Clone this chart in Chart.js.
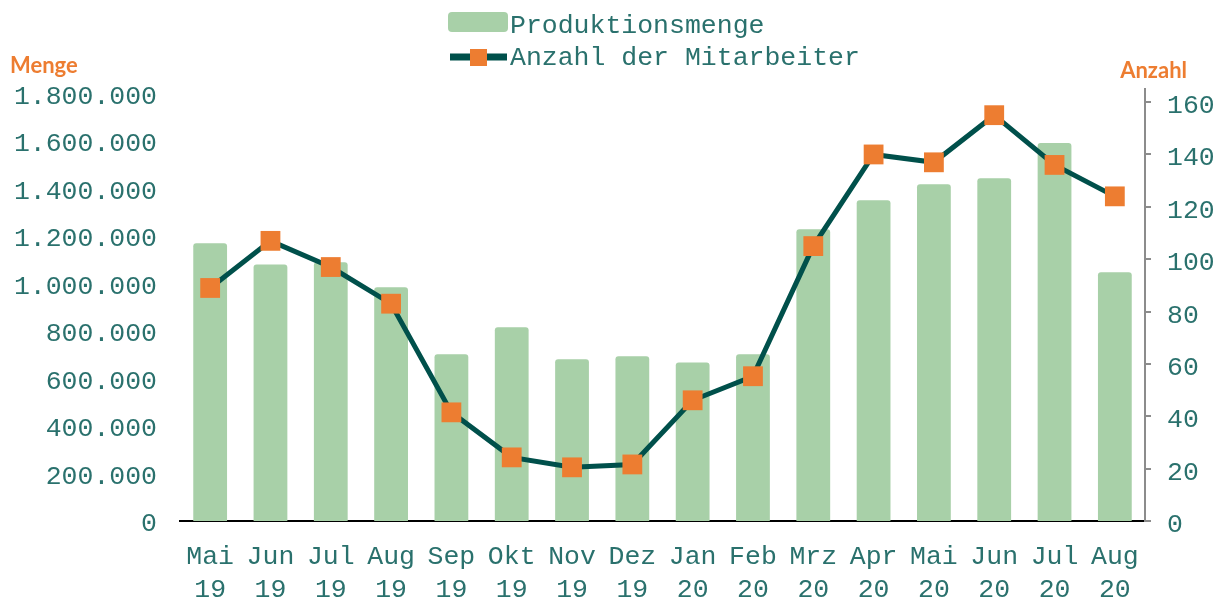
<!DOCTYPE html>
<html>
<head>
<meta charset="utf-8">
<script src="https://cdn.jsdelivr.net/npm/chart.js@4.4.1/dist/chart.umd.min.js"></script>
<style>
  html, body { margin: 0; padding: 0; background: #fff; }
  #wrap { width: 1223px; height: 601px; }
</style>
</head>
<body>
<div id="wrap"><canvas id="chart"></canvas></div>
<script>
const months = [
  ['Mai', '19'], ['Jun', '19'], ['Jul', '19'], ['Aug', '19'],
  ['Sep', '19'], ['Okt', '19'], ['Nov', '19'], ['Dez', '19'],
  ['Jan', '20'], ['Feb', '20'], ['Mrz', '20'], ['Apr', '20'],
  ['Mai', '20'], ['Jun', '20'], ['Jul', '20'], ['Aug', '20']
];
const produktionsmenge = [
  1170000, 1081000, 1090000, 985000, 702000, 816000, 681000, 694000,
  668000, 702000, 1229000, 1351000, 1419000, 1444000, 1592000, 1048000
];
const mitarbeiter = [89, 107, 97, 83, 41.5, 24.3, 20.5, 21.6, 46.1, 55.3, 105, 140, 137, 155, 136, 124];
const mengeTicks = [0, 200000, 400000, 600000, 800000, 1000000, 1200000, 1400000, 1600000, 1800000];
const anzahlTicks = [0, 20, 40, 60, 80, 100, 120, 140, 160];
const seriesNames = ['Produktionsmenge', 'Anzahl der Mitarbeiter'];
const axisTitles = ['Menge', 'Anzahl'];

const barColour = '#a8d0a8';
const lineColour = '#00504b';
const markerColour = '#ed7d31';
const textColour = '#2a716d';
const monoFont = "'Liberation Mono', 'Courier New', monospace";
const fontSize = 26.5;

function dotted(v) {
  return String(v).replace(/\B(?=(\d{3})+(?!\d))/g, '.');
}

// legend drawn above the plot, two stacked rows
const legendBlock = {
  id: 'legendBlock',
  afterDraw(chart) {
    const ctx = chart.ctx;
    const x0 = chart.chartArea.left + 268;
    ctx.save();
    ctx.fillStyle = barColour;
    ctx.beginPath();
    ctx.roundRect(x0, 12, 60, 20, 4);
    ctx.fill();

    ctx.strokeStyle = lineColour;
    ctx.lineWidth = 7;
    ctx.beginPath();
    ctx.moveTo(x0 + 2, 57);
    ctx.lineTo(x0 + 59, 57);
    ctx.stroke();
    ctx.fillStyle = markerColour;
    ctx.fillRect(x0 + 22, 49, 17, 17);

    ctx.font = fontSize + 'px ' + monoFont;
    ctx.fillStyle = textColour;
    ctx.textBaseline = 'middle';
    ctx.fillText(seriesNames[0], x0 + 62, 26);
    ctx.fillText(seriesNames[1], x0 + 62, 58);

    // axis captions
    ctx.font = "bold 22px Lato, 'Open Sans', sans-serif";
    ctx.fillStyle = markerColour;
    ctx.textAlign = 'left';
    ctx.fillText(axisTitles[0], 10, 66);
    ctx.textAlign = 'right';
    ctx.fillText(axisTitles[1], 1187, 71);
    ctx.restore();
  }
};

const ctx = document.getElementById('chart').getContext('2d');
new Chart(ctx, {
  data: {
    labels: months,
    datasets: [
      {
        type: 'line',
        label: seriesNames[1],
        data: mitarbeiter,
        yAxisID: 'y1',
        borderColor: lineColour,
        borderWidth: 5,
        pointStyle: 'rect',
        pointRadius: 14,
        pointBackgroundColor: markerColour,
        pointBorderColor: markerColour,
        pointBorderWidth: 0,
        tension: 0,
        order: 0
      },
      {
        type: 'bar',
        label: seriesNames[0],
        data: produktionsmenge,
        yAxisID: 'y',
        backgroundColor: barColour,
        borderRadius: { topLeft: 3, topRight: 3 },
        borderSkipped: 'bottom',
        categoryPercentage: 1,
        barPercentage: 0.56,
        order: 1
      }
    ]
  },
  options: {
    responsive: true,
    maintainAspectRatio: false,
    animation: false,
    layout: { padding: { top: 89, left: 10, right: 0, bottom: 0 } },
    plugins: {
      legend: { display: false },
      tooltip: { enabled: false }
    },
    scales: {
      x: {
        grid: { display: false },
        border: { display: true, color: '#000', width: 2 },
        ticks: {
          color: textColour,
          font: { family: monoFont, size: fontSize, lineHeight: 1.25 },
          padding: 11,
          autoSkip: false,
          maxRotation: 0,
          minRotation: 0
        },
        afterFit(scale) { scale.height = 80; }
      },
      y: {
        position: 'left',
        min: 0,
        max: 1820000,
        grid: { display: false },
        border: { display: false },
        ticks: {
          autoSkip: false,
          color: textColour,
          font: { family: monoFont, size: fontSize },
          padding: 15,
          labelOffset: 3,
          callback: v => dotted(v)
        },
        afterBuildTicks(scale) {
          scale.ticks = mengeTicks.map(v => ({ value: v }));
        },
        afterFit(scale) { scale.width = 170; }
      },
      y1: {
        position: 'right',
        min: 0,
        max: 165,
        grid: {
          display: true,
          drawOnChartArea: false,
          drawTicks: true,
          tickLength: 6,
          color: '#8c8c8c',
          lineWidth: 2
        },
        border: { display: true, color: '#8c8c8c', width: 2 },
        ticks: {
          autoSkip: false,
          color: textColour,
          font: { family: monoFont, size: fontSize },
          padding: 16,
          labelOffset: 4
        },
        afterBuildTicks(scale) {
          scale.ticks = anzahlTicks.map(v => ({ value: v }));
        },
        afterFit(scale) { scale.width = 78; }
      }
    }
  },
  plugins: [legendBlock]
});
</script>
</body>
</html>
